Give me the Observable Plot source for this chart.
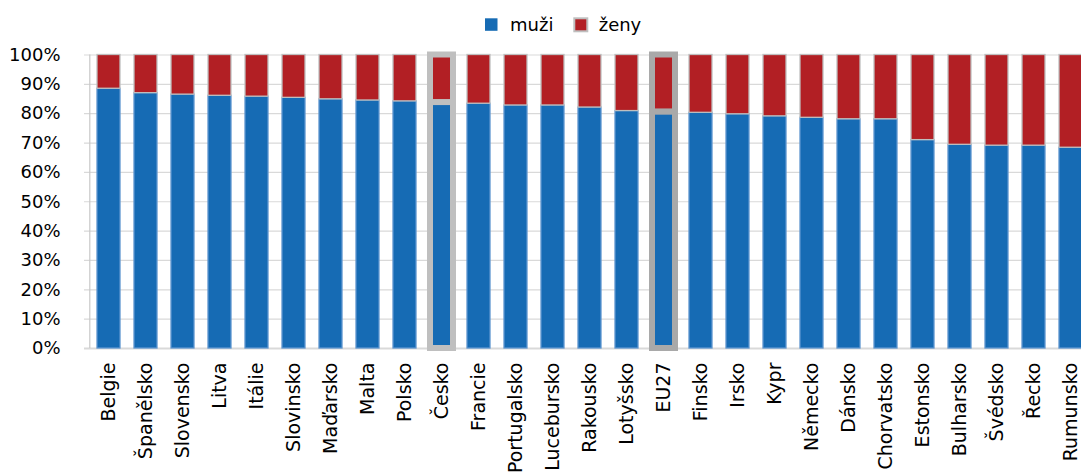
<!DOCTYPE html>
<html><head><meta charset="utf-8">
<script src="https://cdn.jsdelivr.net/npm/d3@7"></script>
<script src="https://cdn.jsdelivr.net/npm/@observablehq/plot@0.6"></script>
<style>
html,body{margin:0;padding:0;overflow:hidden;background:#fff;font-family:"DejaVu Sans",sans-serif;}
#legend svg,#chart svg{display:block;}
</style>
</head><body>
<div id="legend"></div>
<div id="chart"></div>
<script>
const countries = ["Belgie","Španělsko","Slovensko","Litva","Itálie","Slovinsko","Maďarsko","Malta","Polsko","Česko","Francie","Portugalsko","Lucebursko","Rakousko","Lotyšsko","EU27","Finsko","Irsko","Kypr","Německo","Dánsko","Chorvatsko","Estonsko","Bulharsko","Švédsko","Řecko","Rumunsko"];
const muzi = [88.5,87.0,86.5,86.1,85.8,85.4,84.9,84.5,84.2,83.8,83.4,82.8,82.8,82.1,80.9,80.6,80.3,79.8,79.1,78.6,78.1,78.1,71.0,69.4,69.1,69.1,68.4];
const zeny = [11.5,13.0,13.5,13.9,14.2,14.6,15.1,15.5,15.8,16.2,16.6,17.2,17.2,17.9,19.1,19.4,19.7,20.2,20.9,21.4,21.9,21.9,29.0,30.6,30.9,30.9,31.6];
const seriesNames = ["muži","ženy"];
const yTicks = [0,10,20,30,40,50,60,70,80,90,100];
const highlighted = ["Česko","EU27"];

const BLUE = "#166bb4", RED = "#b21f24";

// legend
const lg = d3.create("svg").attr("width",1081).attr("height",44)
  .style("font-family","DejaVu Sans").style("font-size","18px");
lg.append("rect").attr("x",485).attr("y",18.3).attr("width",12.5).attr("height",12.5).attr("fill",BLUE);
lg.append("text").attr("x",510).attr("y",31).attr("fill","#000").text(seriesNames[0]);
lg.append("rect").attr("x",574.3).attr("y",18.3).attr("width",13).attr("height",13).attr("fill",RED).attr("stroke","#bfbfbf").attr("stroke-width",2);
lg.append("text").attr("x",598.7).attr("y",31).attr("fill","#000").text(seriesNames[1]);
document.getElementById("legend").append(lg.node());

const rows = countries.map((c,i)=>({country:c, m:muzi[i], z:zeny[i]}));
const normal = rows.filter(d=>!highlighted.includes(d.country));
const cz = rows.filter(d=>d.country==="Česko");
const eu = rows.filter(d=>d.country==="EU27");

function pair(data, blueStroke, redStroke, sw){
  return [
    Plot.barY(data,{x:"country", y1:0, y2:"m", fill:BLUE, stroke:blueStroke, strokeWidth:sw}),
    Plot.barY(data,{x:"country", y1:"m", y2:d=>d.m+d.z, fill:RED, stroke:redStroke, strokeWidth:sw})
  ];
}

const chart = Plot.plot({
  width:1081, height:432,
  marginTop:10.5, marginBottom:128, marginLeft:84, marginRight:0,
  style:{fontFamily:"DejaVu Sans", fontSize:"18px", color:"#000", background:"#fff"},
  x:{domain:countries, range:[84,1094.6], paddingInner:0.37, paddingOuter:0.185, align:0.5, label:null},
  y:{domain:[0,100], label:null},
  marks:[
    Plot.ruleY(yTicks.filter(t=>t>0),{stroke:"#d9d9d9", strokeWidth:1.2}),
    Plot.ruleY([0],{stroke:"#d9d9d9", strokeWidth:2}),
    Plot.ruleX([countries[0]],{dx:-19.2, y1:0, y2:100, stroke:"#c8c8c8", strokeWidth:1.2}),
    ...pair(normal, "#5d95cf", "#bfbfbf", 1.3),
    ...pair(cz, "#bfbfbf", "#bfbfbf", 6),
    ...pair(eu, "#a9a9a9", "#a9a9a9", 6),
    Plot.axisY({ticks:yTicks, tickFormat:d=>d+"%", tickSize:0, tickPadding:24, fontSize:18, label:null}),
    Plot.axisX({tickRotate:-90, tickSize:0, tickPadding:14, fontSize:19, label:null})
  ]
});
document.getElementById("chart").append(chart);
</script>
</body></html>
